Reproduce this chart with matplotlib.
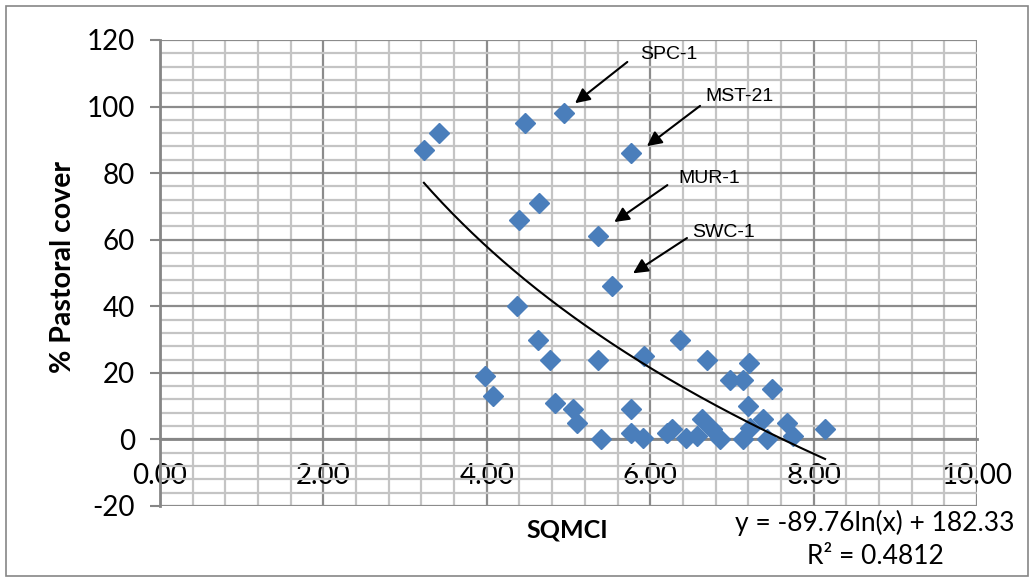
import matplotlib.pyplot as plt
import numpy as np
from matplotlib.patches import Rectangle

plt.rcParams['axes.unicode_minus'] = False

# SQMCI vs % pastoral cover
sqmci = [3.23, 3.42, 4.47, 4.94, 5.77, 4.39, 4.64, 5.36, 5.53, 4.37,
         4.63, 4.77, 5.36, 5.92, 6.36, 6.69, 6.98, 7.14, 7.21, 7.49,
         7.20, 3.98, 4.08, 4.83, 5.05, 5.11, 5.40, 5.76, 5.76, 5.91,
         6.20, 6.27, 6.44, 6.57, 6.63, 6.76, 6.86, 7.14, 7.22, 7.38,
         7.43, 7.67, 7.75, 8.14]
pastoral = [87, 92, 95, 98, 86, 66, 71, 61, 46, 40,
            30, 24, 24, 25, 30, 24, 18, 18, 23, 15,
            10, 19, 13, 11, 9, 5, 0, 9, 2, 0.5,
            2, 3, 0.5, 1, 6, 3, 0, 0, 3.5, 6,
            0, 5, 1, 3]

# log trend line shown on the chart
trend_a = -89.76
trend_b = 182.33

# labelled sites: name, text position, arrow tail, arrow tip
site_names = ['SPC-1', 'MST-21', 'MUR-1', 'SWC-1']
site_text = [(5.88, 115.5), (6.67, 103), (6.34, 78.5), (6.51, 62.3)]
site_tail = [(5.72, 113.4), (6.61, 100.2), (6.21, 76.4), (6.45, 60.5)]
site_tip = [(5.08, 101), (5.96, 88.1), (5.56, 65.3), (5.79, 49.9)]

fig = plt.figure(figsize=(10.33, 5.81), dpi=100)
ax = fig.add_axes([0.1549, 0.1291, 0.7909, 0.8021])

ax.set_xlim(0, 10)
ax.set_ylim(-20, 120)
ax.set_xticks(np.arange(0, 10.1, 2))
ax.set_yticks(np.arange(-20, 121, 20))
ax.set_xticks(np.arange(0, 10.01, 0.4), minor=True)
ax.set_yticks(np.arange(-20, 120.1, 4), minor=True)
ax.set_xticklabels(['%.2f' % v for v in np.arange(0, 10.1, 2)])

ax.grid(which='minor', color='#c4c4c4', lw=1.6, zorder=0)
ax.grid(which='major', color='#8c8c8c', lw=1.6, zorder=0)
ax.set_axisbelow(True)

for s in ['top', 'right']:
    ax.spines[s].set_visible(False)
ax.spines['bottom'].set_position(('data', 0))
ax.spines['bottom'].set_color('#868686')
ax.spines['bottom'].set_linewidth(2)
ax.spines['left'].set_color('#868686')
ax.spines['left'].set_linewidth(2)

ax.tick_params(axis='x', which='both', length=0, labelsize=20, pad=17)
ax.tick_params(axis='y', which='major', length=7, color='#868686', width=1.5,
               labelsize=20, pad=11)
ax.tick_params(axis='y', which='minor', length=0)
for lab in ax.get_xticklabels() + ax.get_yticklabels():
    lab.set_family('Lato')

ax.plot(sqmci, pastoral, linestyle='none', marker='D', ms=10.5,
        color='#4a7ebb', mec='#4a7ebb', zorder=3)

xt = np.linspace(min(sqmci), max(sqmci), 200)
ax.plot(xt, trend_a * np.log(xt) + trend_b, color='black', lw=1.5, zorder=4)

for name, tpos, tail, tip in zip(site_names, site_text, site_tail, site_tip):
    ax.text(tpos[0], tpos[1], name, family='Liberation Sans', fontsize=14,
            ha='left', va='center', zorder=5)
    ax.annotate('', xy=tip, xytext=tail,
                arrowprops=dict(arrowstyle='-|>', color='black', lw=1.5,
                                mutation_scale=22, shrinkA=0, shrinkB=0),
                zorder=5)

fig.text(0.0610, 0.5396, '% Pastoral cover', rotation=90, ha='center',
         va='center', family='Lato', fontweight='bold', fontsize=20.5)
fig.text(0.549, 0.088, 'SQMCI', ha='center', va='center', family='Lato',
         fontweight='bold', fontsize=18)
fig.text(0.847, 0.100, 'y = -89.76ln(x) + 182.33', ha='center', va='center',
         family='Lato', fontsize=19)
fig.text(0.847, 0.043, 'R² = 0.4812', ha='center', va='center',
         family='Lato', fontsize=19)

fig.patches.append(Rectangle((0.006, 0.008), 0.989, 0.982, transform=fig.transFigure,
                             fill=False, edgecolor='#868686', lw=1.2))

fig.savefig('out.png', dpi=100)
